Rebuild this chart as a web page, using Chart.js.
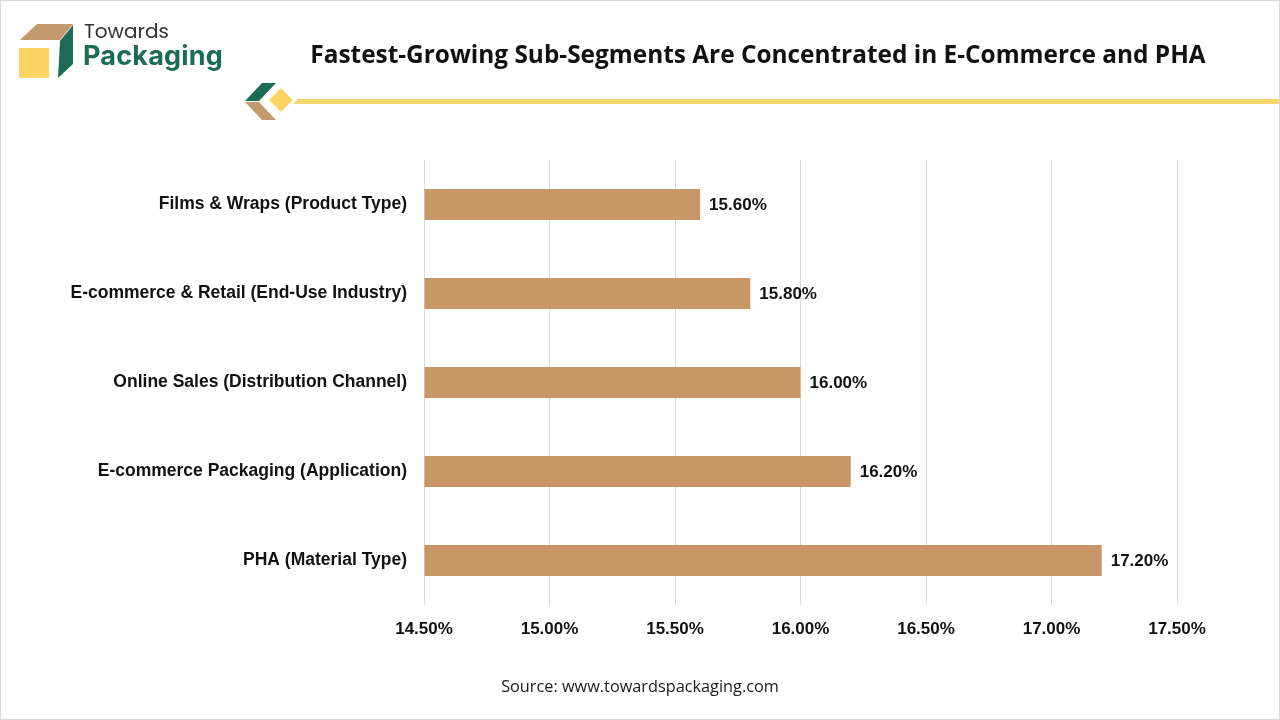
<!DOCTYPE html>
<html>
<head>
<meta charset="utf-8">
<script src="https://cdn.jsdelivr.net/npm/chart.js@4.4.1/dist/chart.umd.min.js"></script>
<style>
  html, body { margin:0; padding:0; background:#fff; }
  #wrap { position:relative; width:1280px; height:720px; overflow:hidden; background:#fff; }
  #frame { position:absolute; left:0; top:0; width:1278px; height:718px; border:1px solid #d9d9d9; pointer-events:none; z-index:5; }
  #c { position:absolute; left:0; top:0; }
  #title { position:absolute; left:0; width:1516px; top:36px; text-align:center; font-family:"Open Sans", sans-serif; font-weight:700; font-size:24.4px; color:#111; line-height:36px; }
  #source { position:absolute; left:0; width:1280px; top:674px; text-align:center; font-family:"Open Sans", sans-serif; font-size:16.3px; color:#1a1a1a; line-height:24px; }
  #t1 { position:absolute; left:84px; top:18px; font-family:"Poppins","Inter",sans-serif; font-size:20px; color:#333; line-height:26px; }
  #t2 { position:absolute; left:83px; top:39px; font-family:"Inter",sans-serif; font-weight:700; font-size:27px; color:#1c6b55; line-height:34px; letter-spacing:0.2px; }
  svg { position:absolute; left:0; top:0; }
</style>
</head>
<body>
<div id="wrap">
  <canvas id="c" width="1280" height="720"></canvas>
  <svg width="1280" height="720">
    <polygon points="20,40 37,24 73,24 60,40" fill="#c49a6c"/>
    <polygon points="60,41 73,25 73,64 58,78" fill="#1c6b55"/>
    <rect x="19" y="48" width="30" height="30" fill="#fcd462"/>
    <polygon points="245,101 262,83 276,83 259,101" fill="#1c6b55"/>
    <polygon points="245,102 259,102 276,120 262,120" fill="#c49a6c"/>
    <rect x="290" y="99" width="990" height="5" fill="#f5d56e"/>
    <polygon points="281,86 295,100 281,114 267,100" fill="#fcd462" stroke="#fff" stroke-width="3"/>
  </svg>
  <div id="t1">Towards</div>
  <div id="t2">Packaging</div>
  <div id="title">Fastest-Growing Sub-Segments Are Concentrated in E-Commerce and PHA</div>
  <div id="source">Source: www.towardspackaging.com</div>
  <div id="frame"></div>
</div>
<script>
const categories = [
  "Films & Wraps (Product Type)",
  "E-commerce & Retail (End-Use Industry)",
  "Online Sales (Distribution Channel)",
  "E-commerce Packaging (Application)",
  "PHA (Material Type)"
];
const growthValues = [15.6, 15.8, 16.0, 16.2, 17.2];
const axisMin = 14.5;
const axisMax = 17.5;
const axisStep = 0.5;

const valueLabels = {
  id: 'valueLabels',
  afterDatasetsDraw(chart) {
    const ctx = chart.ctx;
    const meta = chart.getDatasetMeta(0);
    ctx.save();
    ctx.font = 'bold 17px "Liberation Sans", Arial, sans-serif';
    ctx.fillStyle = '#111';
    ctx.textAlign = 'left';
    ctx.textBaseline = 'middle';
    meta.data.forEach((bar, i) => {
      ctx.fillText(growthValues[i].toFixed(2) + '%', bar.x + 9, bar.y + 1);
    });
    ctx.restore();
  }
};

new Chart(document.getElementById('c'), {
  type: 'bar',
  data: {
    labels: categories,
    datasets: [{
      data: growthValues,
      backgroundColor: '#c99765',
      barPercentage: 0.35,
      categoryPercentage: 1.0,
      base: axisMin
    }]
  },
  options: {
    indexAxis: 'y',
    responsive: false,
    animation: false,
    devicePixelRatio: 1,
    layout: { padding: { top: 160, right: 103, bottom: 0, left: 0 } },
    plugins: { legend: { display: false }, tooltip: { enabled: false } },
    scales: {
      x: {
        min: axisMin, max: axisMax,
        ticks: {
          stepSize: axisStep,
          padding: 14,
          color: '#111',
          font: { family: '"Liberation Sans", Arial, sans-serif', weight: 'bold', size: 17 },
          callback: v => v.toFixed(2) + '%'
        },
        grid: { color: '#d9d9d9', drawTicks: false, lineWidth: 1 },
        border: { display: false },
        afterFit(scale) { scale.height = 115; }
      },
      y: {
        ticks: {
          padding: 17,
          color: '#111',
          font: { family: '"Liberation Sans", Arial, sans-serif', weight: 'bold', size: 17.5 }
        },
        grid: { display: false, drawTicks: false },
        border: { display: false },
        afterFit(scale) { scale.width = 424; }
      }
    }
  },
  plugins: [valueLabels]
});
</script>
</body>
</html>
